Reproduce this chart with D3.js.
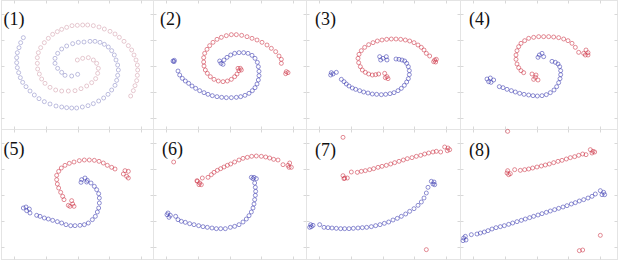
<!DOCTYPE html>
<html>
<head>
<meta charset="utf-8">
<script src="https://cdn.jsdelivr.net/npm/d3@7"></script>
<style>
  html, body { margin: 0; padding: 0; background: #fff; }
  svg { display: block; }
</style>
</head>
<body>
<div id="chart"></div>
<script>
// Panel labels
const panelLabels = ['(1)', '(2)', '(3)', '(4)', '(5)', '(6)', '(7)', '(8)'];

// Embedding coordinates for each panel (x right, y down)
const p1Red = [[392,288],[400,272],[405,257],[410,242],[412,226],[413,210],[412,195],[408,180],[402,165],[395,150],[385,137],[372,124],[358,112],[345,102],[330,94],[313,87],[297,81],[280,77],[263,75],[248,75],[232,76],[216,77],[200,82],[185,88],[172,95],[158,103],[145,115],[133,128],[122,143],[115,158],[112,173],[112,190],[113,207],[118,222],[125,237],[135,250],[150,262],[167,270],[185,273],[205,273],[225,272],[243,266],[260,258],[275,248],[287,236],[293,220],[295,205],[290,190],[280,180],[265,173],[248,175],[232,180]];
const p1Blue = [[70,113],[62,128],[57,143],[52,158],[50,173],[50,188],[52,203],[56,218],[61,233],[68,247],[78,260],[90,273],[103,285],[117,296],[133,305],[150,312],[168,318],[185,321],[200,323],[215,324],[230,324],[247,321],[264,317],[280,311],[296,303],[311,294],[324,283],[335,270],[345,256],[350,241],[353,226],[355,210],[353,195],[348,180],[343,165],[335,152],[325,141],[313,133],[300,127],[285,124],[270,124],[252,126],[235,127],[218,131],[200,138],[185,147],[173,160],[165,175],[165,190],[173,205],[185,217],[195,226],[215,228],[233,223]];

const p2Red = [[400,215],[405,218],[398,221],[385,190],[385,178],[378,168],[368,155],[355,145],[342,135],[327,127],[312,120],[297,115],[282,110],[266,106],[250,104],[235,104],[220,107],[205,112],[192,118],[180,127],[170,137],[162,148],[155,160],[152,173],[152,186],[153,198],[157,210],[163,220],[172,230],[183,238],[196,243],[210,245],[223,243],[235,238],[245,230],[252,222],[258,212],[265,210],[262,205],[255,205]];
const p2Blue = [[60,183],[64,181],[63,185],[75,213],[80,225],[88,235],[97,243],[107,250],[117,258],[128,265],[140,272],[153,278],[165,283],[178,287],[192,290],[206,292],[220,293],[235,293],[250,292],[263,290],[276,286],[288,280],[298,272],[306,263],[312,252],[316,240],[318,227],[318,214],[316,200],[313,187],[306,175],[297,166],[285,160],[272,158],[258,158],[245,160],[233,165],[222,172],[213,180],[200,183],[204,190],[210,193]];

const p3Red = [[380,180],[385,178],[377,185],[383,186],[365,168],[355,160],[348,150],[340,142],[330,135],[318,128],[305,123],[292,120],[278,118],[264,117],[250,117],[236,118],[222,120],[208,123],[195,128],[182,134],[170,142],[160,152],[153,163],[150,175],[152,188],[157,200],[163,210],[172,217],[182,222],[193,225],[203,224],[212,222],[230,220],[237,230],[240,236],[232,233]];
const p3Blue = [[70,218],[75,222],[85,217],[68,225],[100,238],[108,245],[115,252],[123,258],[133,264],[143,268],[155,272],[167,276],[180,279],[193,282],[206,283],[220,284],[233,283],[246,281],[258,278],[270,272],[280,265],[289,256],[296,246],[301,236],[304,224],[304,212],[301,200],[296,190],[290,183],[282,180],[273,178],[264,177],[215,170],[225,175],[218,180],[235,170],[237,180]];

const p4Red = [[372,150],[378,158],[370,165],[365,160],[378,165],[350,157],[340,142],[330,130],[318,122],[305,117],[290,113],[275,111],[260,110],[245,110],[230,110],[215,112],[200,115],[188,122],[177,130],[170,140],[165,152],[162,165],[162,178],[165,192],[170,203],[177,212],[185,218],[210,222],[220,232],[228,240],[215,238],[222,225]];
const p4Blue = [[75,237],[85,234],[95,240],[87,247],[80,245],[112,260],[123,263],[135,268],[148,272],[160,276],[173,280],[186,283],[200,285],[213,287],[226,288],[240,287],[253,284],[265,278],[276,270],[284,260],[290,248],[294,236],[296,224],[296,212],[293,200],[288,192],[280,187],[270,184],[232,165],[240,160],[245,170],[228,172]];

const p5Red = [[375,128],[385,130],[380,145],[385,150],[370,138],[345,123],[335,118],[322,112],[310,105],[297,100],[283,97],[268,96],[253,96],[238,98],[222,102],[208,106],[195,112],[184,120],[176,130],[170,142],[170,155],[172,168],[176,180],[182,193],[188,205],[192,215],[215,218],[218,228],[210,235],[222,235],[205,232]];
const p5Blue = [[70,240],[78,237],[88,243],[80,248],[90,255],[110,262],[120,265],[133,270],[145,273],[158,277],[172,281],[185,285],[198,290],[212,293],[225,293],[240,292],[253,290],[265,285],[277,275],[286,265],[292,252],[296,240],[298,225],[298,210],[296,197],[290,185],[283,175],[273,165],[262,157],[245,155],[255,150],[260,162],[243,163]];

const p6Red = [[62,102],[133,160],[140,165],[145,170],[138,170],[132,158],[148,150],[165,148],[175,140],[183,133],[193,127],[203,122],[213,117],[223,112],[233,108],[245,102],[258,96],[270,91],[283,88],[296,85],[310,84],[325,85],[338,87],[350,90],[362,94],[375,96],[390,110],[405,112],[410,105],[415,118],[408,118]];
const p6Blue = [[42,260],[48,268],[45,255],[52,262],[68,265],[75,275],[85,280],[97,283],[110,287],[123,290],[137,293],[150,296],[163,298],[177,300],[190,302],[203,302],[217,302],[232,298],[245,295],[258,290],[270,282],[280,273],[288,263],[295,252],[300,240],[303,228],[305,215],[307,202],[308,190],[307,178],[305,165],[300,152],[295,148],[303,148],[310,152]];

const p7Red = [[105,28],[105,143],[110,150],[118,150],[108,152],[130,132],[148,133],[160,130],[172,128],[185,125],[197,122],[210,118],[222,115],[235,112],[248,108],[260,104],[273,100],[286,96],[298,92],[312,89],[325,85],[338,82],[350,78],[362,75],[375,72],[385,70],[398,72],[410,57],[420,60],[418,68],[425,65],[355,365]];
const p7Blue = [[8,290],[10,296],[15,292],[5,298],[35,290],[48,298],[60,299],[72,300],[85,301],[98,302],[110,302],[123,302],[136,301],[150,300],[163,299],[176,298],[190,296],[203,293],[216,290],[229,286],[242,282],[255,276],[268,271],[280,265],[293,258],[305,250],[318,242],[330,232],[340,222],[348,210],[355,195],[360,178],[370,160],[378,162],[380,170],[375,168]];

const p8Red = [[137,10],[135,135],[140,140],[145,137],[137,128],[158,125],[175,127],[188,125],[200,123],[212,120],[225,117],[238,114],[250,111],[262,108],[275,104],[288,100],[300,97],[313,93],[325,89],[338,86],[350,82],[362,78],[372,80],[385,65],[393,70],[398,72],[390,75],[415,322],[352,368],[362,366]];
const p8Blue = [[5,330],[12,336],[10,325],[3,338],[28,320],[45,318],[55,315],[67,312],[78,308],[90,303],[102,299],[115,296],[127,293],[140,289],[152,285],[165,281],[178,277],[190,273],[203,269],[215,265],[228,261],[240,257],[253,253],[265,249],[278,245],[290,241],[303,237],[315,233],[328,228],[340,224],[352,219],[365,215],[378,210],[390,205],[400,198],[415,188],[425,193],[428,200],[420,200]];

const panelRed = [p1Red, p2Red, p3Red, p4Red, p5Red, p6Red, p7Red, p8Red];
const panelBlue = [p1Blue, p2Blue, p3Blue, p4Blue, p5Blue, p6Blue, p7Blue, p8Blue];

const width = 618, height = 261;
const originsX = [0, 153, 308, 462];
const originsY = [0, 128];
const framesX = [[1, 153], [153, 306], [306, 460], [460, 617]];
const framesY = [[0, 129], [129, 259]];
const labelX = [3.5, 160, 315, 469, 3.5, 162, 315, 469];
const labelY = [25, 25, 25, 25, 155, 155, 156, 156];

const svg = d3.select('#chart').append('svg')
    .attr('width', width)
    .attr('height', height);

panelLabels.forEach((label, i) => {
    const col = i % 4, row = Math.floor(i / 4);
    const ox = originsX[col], oy = originsY[row];
    const [fx0, fx1] = framesX[col];
    const [fy0, fy1] = framesY[row];

    const x = d3.scaleLinear().domain([0, 465]).range([ox, ox + 155]);
    const y = d3.scaleLinear().domain([0, 390]).range([oy, oy + 130]);

    const g = svg.append('g');

    // faint box with inner ticks
    g.append('rect')
        .attr('x', fx0 + 0.5).attr('y', fy0 + 0.5)
        .attr('width', fx1 - fx0).attr('height', fy1 - fy0)
        .attr('fill', 'none')
        .attr('stroke', '#e4e4e4')
        .attr('stroke-width', 1);

    const tx = d3.scaleLinear().domain([0, 4]).range([fx0 + 13, fx0 + 140]);
    const ty = d3.scaleLinear().domain([0, 4]).range([fy0 + 14, fy0 + 118]);
    const ticks = d3.range(5);
    g.selectAll('.xt').data(ticks).enter().append('path')
        .attr('d', d => `M${Math.round(tx(d)) + 0.5},${fy1 + 0.5}v-3M${Math.round(tx(d)) + 0.5},${fy0 + 0.5}v3`)
        .attr('stroke', '#d8d8d8').attr('stroke-width', 1);
    g.selectAll('.yt').data(ticks).enter().append('path')
        .attr('d', d => `M${fx0 + 0.5},${Math.round(ty(d)) + 0.5}h3M${fx1 + 0.5},${Math.round(ty(d)) + 0.5}h-3`)
        .attr('stroke', '#d8d8d8').attr('stroke-width', 1);

    const faded = i === 0;
    const series = [
        { pts: panelBlue[i], color: faded ? '#6f6fb8' : '#3a3ab0' },
        { pts: panelRed[i], color: faded ? '#c98898' : '#cc3344' }
    ];
    series.forEach(s => {
        g.selectAll(null).data(s.pts).enter().append('circle')
            .attr('cx', d => x(d[0]))
            .attr('cy', d => y(d[1]))
            .attr('r', 2)
            .attr('fill', 'none')
            .attr('stroke', s.color)
            .attr('stroke-opacity', faded ? 0.55 : 0.7)
            .attr('stroke-width', 0.8);
    });

    g.append('text')
        .attr('x', labelX[i])
        .attr('y', labelY[i])
        .attr('font-family', '"Liberation Serif", "DejaVu Serif", serif')
        .attr('font-size', 18)
        .attr('fill', '#111')
        .text(label);
});
</script>
</body>
</html>
